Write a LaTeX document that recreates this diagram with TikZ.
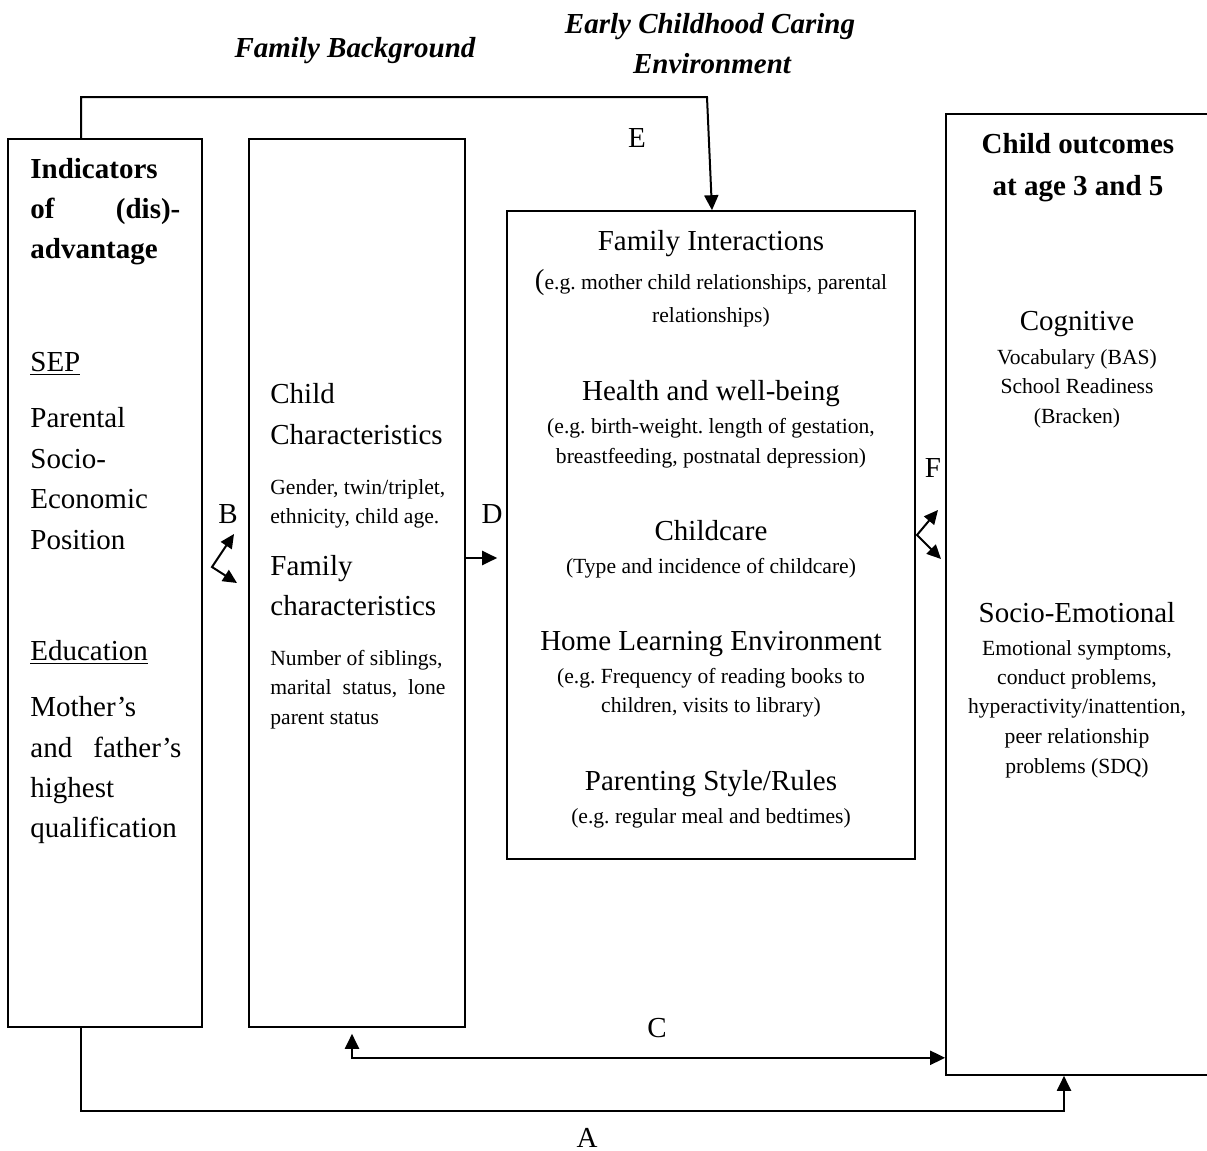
\documentclass[tikz,border=0pt]{standalone}
\usepackage{fontspec}
\setmainfont{Liberation Serif}
\usetikzlibrary{arrows.meta,calc,fit}
\frenchspacing

\begin{document}
\begin{tikzpicture}[x=0.5pt,y=-0.5pt,
    box/.style={draw,line width=0.8pt,inner sep=0pt},
    big/.style={font=\fontsize{14.5}{17}\selectfont,inner sep=0pt,text height=11.8pt,text depth=1.8pt},
    small/.style={font=\fontsize{10.8}{13}\selectfont,inner sep=0pt,text height=9pt,text depth=1.3pt},
    head/.style={big,font=\fontsize{14.5}{17}\selectfont\bfseries},
    title/.style={big,font=\fontsize{14.5}{17}\selectfont\bfseries\itshape},
    arr/.style={line width=1pt,-{Triangle[length=7.5pt,width=7pt]}},
    both/.style={line width=1pt,{Triangle[length=7.5pt,width=7pt]}-{Triangle[length=7.5pt,width=7pt]}},
    kink/.style={line width=1pt,{Triangle[length=7pt,width=6.5pt]}-{Triangle[length=7pt,width=6.5pt]}}]
  \useasboundingbox (0,0) rectangle (1207,1151);
  \clip (0,0) rectangle (1207,1151);

  % the four columns
  \node[box,fit={(8,139) (202,1027)}] (adv) {};
  \node[box,fit={(249,139) (465,1027)}] (chr) {};
  \node[box,fit={(507,211) (915,859)}] (env) {};
  \node[box,fit={(946,114) (1212,1075)}] (out) {};

  % titles
  \node[title] (fam-bg) at (355,47) {Family Background};
  \node[title] (ecce-1) at (710,23) {Early Childhood Caring};
  \node[title] (ecce-2) at (712,63) {Environment};

  % indicators of (dis)-advantage
  \foreach \t/\y in {Indicators/168,advantage/248}
    \node[head,anchor=west] (adv-\y) at (30,\y) {\t};
  \node[head,anchor=west] (adv-208) at (30,208) {\makebox[75pt][s]{of (dis)-}};
  \foreach \t/\y in {\underline{SEP}/361,Parental/417,Socio-/458,Economic/498,Position/539,
      \underline{Education}/650,Mother’s/706,highest/787,qualification/827}
    \node[big,anchor=west] (adv-\y) at (30,\y) {\t};
  \node[big,anchor=west] (adv-747) at (30,747) {\makebox[75.5pt][s]{and father’s}};

  % child and family characteristics
  \foreach \t/\y in {Child/393,Characteristics/434,Family/565,characteristics/605}
    \node[big,anchor=west] (chr-\y) at (270,\y) {\t};
  \foreach \t/\y in {{Gender, twin/triplet,}/487,{ethnicity, child age.}/516,
      {Number of siblings,}/658,{parent status}/717}
    \node[small,anchor=west] (chr-\y) at (270,\y) {\t};
  \node[small,anchor=west] (chr-687) at (270,687) {\makebox[87.5pt][s]{marital status, lone}};

  % caring environment
  \foreach \t/\y in {Family Interactions/240,Health and well-being/390,Childcare/530,
      Home Learning Environment/640,{Parenting Style/Rules}/780}
    \node[big] (env-\y) at (711,\y) {\t};
  \foreach \t/\y in {{{\fontsize{14.5}{17}\selectfont(}e.g. mother child relationships, parental}/282,
      relationships)/315,
      {(e.g. birth-weight. length of gestation,}/426,
      {breastfeeding, postnatal depression)}/456,
      {(Type and incidence of childcare)}/566,
      {(e.g. Frequency of reading books to}/676,
      {children, visits to library)}/705,
      {(e.g. regular meal and bedtimes)}/816}
    \node[small] (env-\y) at (711,\y) {\t};

  % outcomes
  \node[head] (out-143) at (1078,143) {Child outcomes};
  \node[head] (out-185) at (1078,185) {at age 3 and 5};
  \foreach \t/\y in {Cognitive/320,Socio-Emotional/612}
    \node[big] (out-\y) at (1077,\y) {\t};
  \foreach \t/\y in {{Vocabulary (BAS)}/357,{School Readiness}/386,(Bracken)/416,
      {Emotional symptoms,}/648,{conduct problems,}/677,{hyperactivity/inattention,}/706,
      {peer relationship}/736,{problems (SDQ)}/766}
    \node[small] (out-\y) at (1077,\y) {\t};

  % path labels
  \foreach \t/\x/\y in {A/587/1137,B/228/513,C/657/1027,D/492/513,E/637/138,F/933/467}
    \node[big] (lbl-\t) at (\x,\y) {\t};

  % connectors
  \coordinate (e-top) at (707,97);
  \draw[arr] ($(adv.north)+(-24,0)$) |- (e-top) -- ($(env.north)+(1,0)$);
  \draw[arr] ($(adv.south)+(-24,0)$) -- ++(0,83) -| ($(out.south)+(-15,0)$);
  \draw[both] ($(chr.south)+(-5,6)$) |- ($(out.south west)+(0,-18)$);
  \draw[arr,shorten >=4.5pt] ($(chr.east)+(0,-25)$) coordinate (d-0) -- (d-0 -| env.west);
  \coordinate (b-v) at (212,567);
  \draw[kink] (234,534) -- (b-v) -- (237,583);
  \coordinate (f-v) at (917,535);
  \draw[kink] (938,510) -- (f-v) -- (941,559);
\end{tikzpicture}
\end{document}
